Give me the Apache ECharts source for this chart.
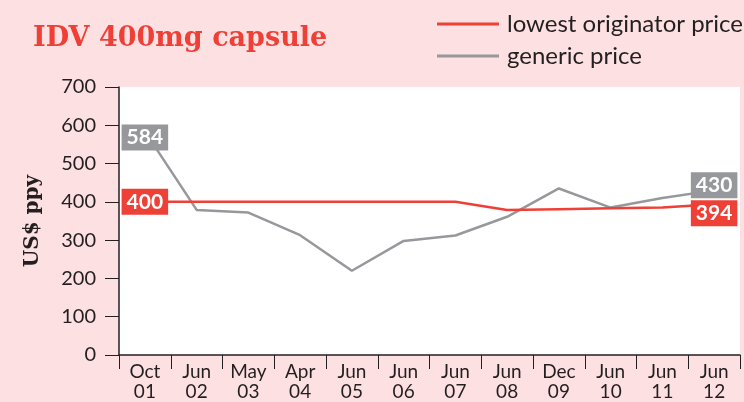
<!DOCTYPE html>
<html>
<head>
<meta charset="utf-8">
<script src="https://cdn.jsdelivr.net/npm/echarts@6/dist/echarts.min.js"></script>
<style>
  html, body { margin: 0; padding: 0; background: #fde0e1; }
  #echart { width: 744px; height: 402px; }
</style>
</head>
<body>
<div id="echart"></div>
<script>
var dom = document.getElementById("echart")
var myChart = echarts.init(dom);

// data
let categories = ['Oct\n01', 'Jun\n02', 'May\n03', 'Apr\n04', 'Jun\n05', 'Jun\n06', 'Jun\n07', 'Jun\n08', 'Dec\n09', 'Jun\n10', 'Jun\n11', 'Jun\n12'];
let originator = [400, 400, 400, 400, 400, 400, 400, 379, 381, 383, 385, 394];
let generic = [584, 379, 372, 313, 220, 298, 312, 361, 435, 385, 410, 430];
let yTicks = [0, 700, 100]; // min, max, interval

let red = '#ee4036';
let grey = '#97989b';

// only first and last points get a value box
function withEndLabels(values, color, offsets) {
    return values.map(function (v, i) {
        if (i !== 0 && i !== values.length - 1) return v;
        return {
            value: v,
            label: {
                show: true,
                position: 'inside',
                offset: [0, i === 0 ? offsets[0] : offsets[1]],
                color: '#fff',
                backgroundColor: color,
                fontFamily: 'Lato',
                fontSize: 21,
                fontWeight: 'bold',
                padding: [3, 5, 2, 5]
            }
        };
    });
}

var option = {
    backgroundColor: '#fde0e1',
    title: {
        text: 'IDV 400mg capsule',
        left: 28,
        top: 20,
        textStyle: {
            fontFamily: 'DejaVu Serif',
            fontWeight: 'bold',
            fontSize: 27,
            color: red
        }
    },
    legend: {
        orient: 'vertical',
        left: 432,
        top: 7,
        itemWidth: 62,
        itemHeight: 3,
        itemGap: 8,
        icon: 'rect',
        textStyle: {
            fontFamily: 'Lato',
            fontSize: 24,
            color: '#231f20',
            padding: [0, 0, 0, 3]
        },
        data: ['lowest originator price', 'generic price']
    },
    grid: {
        left: 119,
        top: 87,
        right: 4,
        bottom: 47,
        show: true,
        backgroundColor: '#fff',
        borderWidth: 0
    },
    xAxis: {
        type: 'category',
        data: categories,
        boundaryGap: true,
        axisLine: { lineStyle: { color: '#231f20', width: 1.5 } },
        axisTick: { show: true, length: 14, interval: 0, lineStyle: { color: '#231f20' } },
        axisLabel: {
            interval: 0,
            margin: 7,
            fontFamily: 'Lato',
            fontSize: 19,
            lineHeight: 20,
            color: '#231f20'
        }
    },
    yAxis: {
        type: 'value',
        min: yTicks[0],
        max: yTicks[1],
        interval: yTicks[2],
        name: 'US$ ppy',
        nameLocation: 'middle',
        nameGap: 76,
        nameTextStyle: {
            fontFamily: 'DejaVu Serif',
            fontWeight: 'bold',
            fontSize: 20,
            color: '#231f20'
        },
        axisLine: { show: true, lineStyle: { color: '#231f20', width: 1.5 } },
        axisTick: { show: true, length: 14, lineStyle: { color: '#231f20' } },
        axisLabel: {
            margin: 23,
            fontFamily: 'Lato',
            fontSize: 20,
            color: '#231f20'
        },
        splitLine: { show: false }
    },
    series: [
        {
            name: 'lowest originator price',
            type: 'line',
            symbol: 'circle',
            symbolSize: 0.1,
            showSymbol: true,
            color: red,
            lineStyle: { color: red, width: 2.5 },
            z: 3,
            data: withEndLabels(originator, red, [0, 9])
        },
        {
            name: 'generic price',
            type: 'line',
            symbol: 'circle',
            symbolSize: 0.1,
            showSymbol: true,
            color: grey,
            lineStyle: { color: grey, width: 2.5 },
            z: 2,
            data: withEndLabels(generic, grey, [6, -5])
        }
    ]
};

if (option && typeof option === 'object') {
    myChart.setOption(option);
}
</script>
</body>
</html>
